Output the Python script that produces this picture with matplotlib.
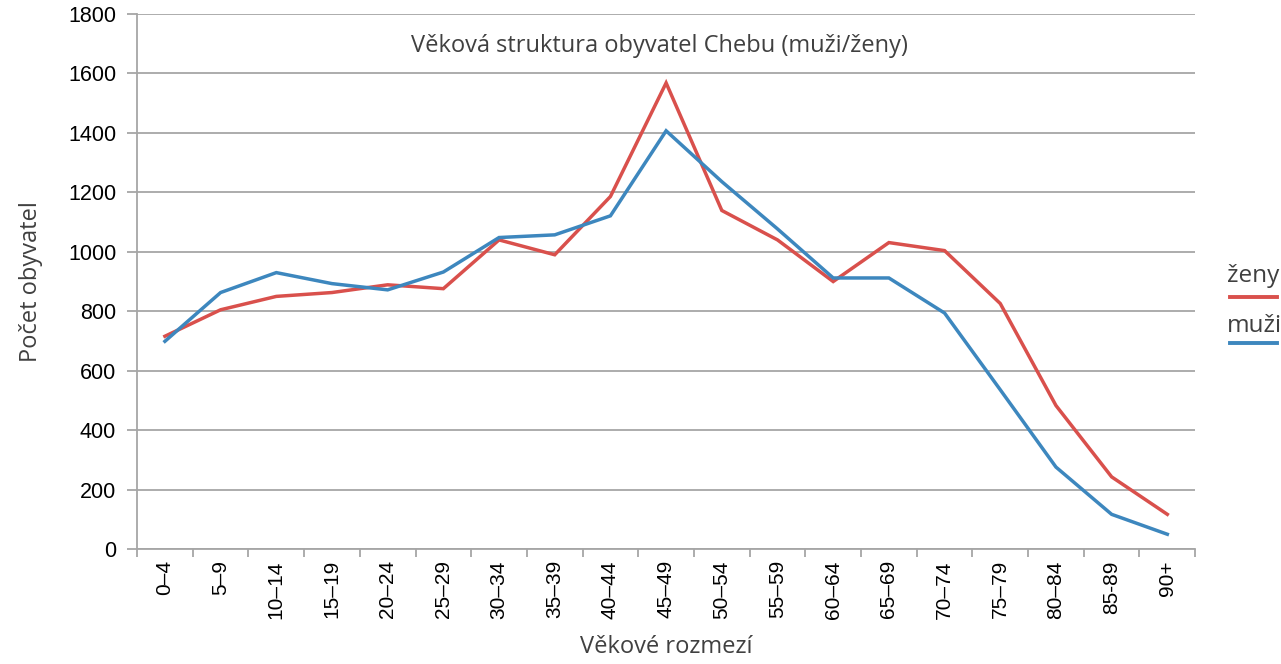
import numpy as np
import matplotlib.pyplot as plt
from matplotlib.lines import Line2D

# věkové skupiny
groups = ['0–4', '5–9', '10–14', '15–19', '20–24', '25–29', '30–34', '35–39',
          '40–44', '45–49', '50–54', '55–59', '60–64', '65–69', '70–74',
          '75–79', '80–84', '85-89', '90+']

# počty obyvatel
zeny = [716, 805, 850, 863, 889, 876, 1040, 990, 1186, 1568, 1139, 1040,
        900, 1031, 1004, 826, 483, 243, 117]
muzi = [699, 863, 930, 893, 872, 932, 1048, 1057, 1121, 1407, 1236, 1077,
        912, 912, 794, 536, 276, 117, 50]

RED = '#D9504C'
BLUE = '#3D87BE'
GRID = '#A6A6A6'
TXT = '#404040'

fig = plt.figure(figsize=(12.81, 6.64), dpi=100)
ax = fig.add_axes([0.107, 0.173, 0.826, 0.806])

x = np.arange(len(groups))
ax.plot(x, zeny, color=RED, lw=2.5, solid_joinstyle='miter', zorder=3)
ax.plot(x, muzi, color=BLUE, lw=2.5, solid_joinstyle='miter', zorder=4)

ax.set_xlim(-0.5, len(groups) - 0.5)
ax.set_ylim(0, 1800)
ax.set_yticks(np.arange(0, 1801, 200))
ax.yaxis.grid(True, color=GRID, lw=1.3)
ax.set_axisbelow(True)

for s in ['top', 'right']:
    ax.spines[s].set_visible(False)
for s in ['left', 'bottom']:
    ax.spines[s].set_color(GRID)
    ax.spines[s].set_linewidth(1.3)

ax.set_xticks(x)
ax.set_xticklabels(groups, rotation=90, family='Liberation Sans', fontsize=15)
ax.set_xticks(np.arange(-0.5, len(groups)), minor=True)
ax.tick_params(axis='x', which='major', length=0, pad=8)
ax.tick_params(axis='x', which='minor', length=6, color=GRID, width=1.3)
ax.tick_params(axis='y', length=7, color=GRID, width=1.3, pad=8)
for lab in ax.get_yticklabels():
    lab.set_family('Liberation Sans')
    lab.set_fontsize(15.5)

ax.set_ylabel('Počet obyvatel', family='Open Sans', fontsize=17, color=TXT, labelpad=18)
ax.set_xlabel('Věkové rozmezí', family='Open Sans', fontsize=17, color=TXT, labelpad=12)

ax.text(0.494, 0.94, 'Věková struktura obyvatel Chebu (muži/ženy)',
        transform=ax.transAxes, ha='center', va='center',
        family='Open Sans', fontsize=17, color=TXT)

# legenda vpravo - text nad čarou
fig.text(0.958, 0.584, 'ženy', family='Open Sans', fontsize=17.5, color=TXT, ha='left', va='center')
fig.add_artist(Line2D([0.960, 0.997], [0.553, 0.553], color=RED, lw=2.8,
                      transform=fig.transFigure))
fig.text(0.958, 0.509, 'muži', family='Open Sans', fontsize=17.5, color=TXT, ha='left', va='center')
fig.add_artist(Line2D([0.960, 0.997], [0.483, 0.483], color=BLUE, lw=2.8,
                      transform=fig.transFigure))

fig.savefig('out.png', dpi=100)
